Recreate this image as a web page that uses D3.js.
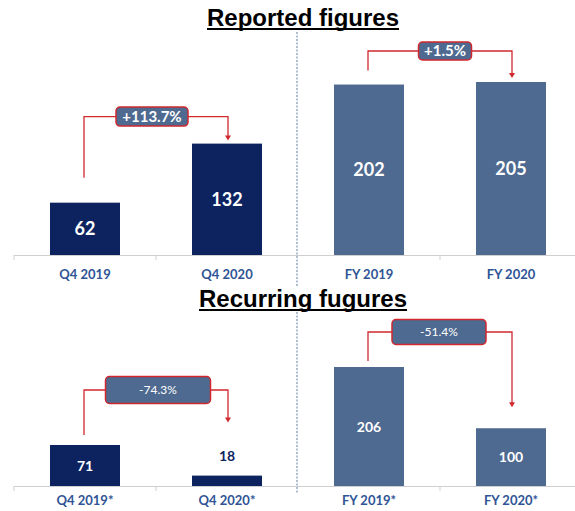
<!DOCTYPE html>
<html>
<head>
<meta charset="utf-8">
<script src="https://cdnjs.cloudflare.com/ajax/libs/d3/7.8.5/d3.min.js"></script>
<style>
  body { margin: 0; background: #fff; }
  text { font-family: Lato, "Open Sans", sans-serif; }
  .title { font-family: "Liberation Sans", Arial, sans-serif; font-weight: bold; font-size: 24px; fill: #000; }
</style>
</head>
<body>
<div id="chart"></div>
<script>
// chart data
var reportedCats = ["Q4 2019", "Q4 2020", "FY 2019", "FY 2020"];
var reportedVals = [62, 132, 202, 205];
var reportedChange = ["+113.7%", "+1.5%"];

var recurringCats = ["Q4 2019*", "Q4 2020*", "FY 2019*", "FY 2020*"];
var recurringVals = [71, 18, 206, 100];
var recurringChange = ["-74.3%", "-51.4%"];

var svgWidth = 575, svgHeight = 511;
var navy = "#0c2360", steel = "#4f6a90", red = "#d0282e", catBlue = "#2f5496";

var svg = d3.select("#chart").append("svg").attr("width", svgWidth).attr("height", svgHeight);

// dotted divider between quarter and full-year halves
[[32, 287], [312, 494]].forEach(function(s) {
  svg.append("line").attr("x1", 297).attr("x2", 297).attr("y1", s[0]).attr("y2", s[1])
    .attr("stroke", "#5f7fa3").attr("stroke-width", 1).attr("stroke-dasharray", "2,1.5");
});

function title(txt, y) {
  var t = svg.append("text").attr("class", "title").attr("x", 303).attr("y", y)
    .attr("text-anchor", "middle").text(txt);
  var w = t.node().getComputedTextLength();
  svg.append("line").attr("x1", 303 - w / 2).attr("x2", 303 + w / 2)
    .attr("y1", y + 3).attr("y2", y + 3).attr("stroke", "#000").attr("stroke-width", 2);
}
title("Reported figures", 26);
title("Recurring fugures", 307);

var x = d3.scaleBand().domain(d3.range(4)).range([14, 582]).paddingInner(0.507).paddingOuter(0.2535);
var barW = x.bandwidth();

// p: panel options
function panel(cats, vals, changes, p) {
  var y = d3.scaleLinear().domain([0, p.maxVal]).range([p.base, p.top]);
  var g = svg.append("g");

  // axis line with small ticks at group boundaries
  g.append("line").attr("x1", 14).attr("x2", 575).attr("y1", p.base + 0.5).attr("y2", p.base + 0.5)
    .attr("stroke", "#cfcfcf").attr("stroke-width", 1);
  g.selectAll(".tick").data([0, 1, 3]).enter().append("line")
    .attr("x1", d => x(d) - x.step() * x.paddingInner() / 2)
    .attr("x2", d => x(d) - x.step() * x.paddingInner() / 2)
    .attr("y1", p.base).attr("y2", p.base + 5).attr("stroke", "#cfcfcf");

  g.selectAll("rect").data(vals).enter().append("rect")
    .attr("x", (d, i) => x(i)).attr("width", barW)
    .attr("y", d => y(d)).attr("height", d => p.base - y(d))
    .attr("fill", (d, i) => i < 2 ? navy : steel);

  g.selectAll(".val").data(vals).enter().append("text")
    .attr("x", (d, i) => x(i) + barW / 2)
    .attr("y", d => (p.base - y(d) < 25) ? y(d) - 20 : (y(d) + p.base) / 2)
    .attr("dy", "0.36em").attr("text-anchor", "middle")
    .attr("font-size", p.valSize).attr("font-weight", "bold")
    .attr("fill", d => (p.base - y(d) < 25) ? navy : "#fff")
    .text(d => d);

  g.selectAll(".cat").data(cats).enter().append("text")
    .attr("x", (d, i) => x(i) + barW / 2).attr("y", p.catY)
    .attr("dy", "0.36em").attr("text-anchor", "middle")
    .attr("font-size", 13).attr("font-weight", "bold").attr("fill", catBlue)
    .text(d => d);

  // change brackets
  changes.forEach(function(c, k) {
    var a = p.brackets[k];
    var i0 = k * 2, i1 = k * 2 + 1;
    var x0 = x(i0) + barW / 2 - 1, x1 = x(i1) + barW / 2 + 1;
    var y0 = y(vals[i0]) - a.start, yt = Math.min(y(vals[i0]), y(vals[i1])) - a.rise;
    var y1 = y(vals[i1]) - a.end;
    g.append("path")
      .attr("d", `M${x0},${y0}V${yt}H${x1}V${y1 - 4}`)
      .attr("fill", "none").attr("stroke", red).attr("stroke-width", 1.3);
    g.append("path")
      .attr("d", `M${x1 - 3},${y1 - 5}L${x1 + 3},${y1 - 5}L${x1},${y1}Z`).attr("fill", red);
    var cx = (x0 + x1) / 2 + a.dx;
    g.append("rect").attr("x", cx - a.w / 2).attr("y", yt - a.h / 2)
      .attr("width", a.w).attr("height", a.h).attr("rx", 4)
      .attr("fill", steel).attr("stroke", red).attr("stroke-width", 1.5);
    g.append("text").attr("x", cx).attr("y", yt).attr("dy", "0.36em")
      .attr("text-anchor", "middle").attr("fill", "#fff")
      .attr("font-size", p.boxSize).attr("font-weight", p.boxWeight).text(c);
  });
}

panel(reportedCats, reportedVals, reportedChange, {
  base: 255, top: 82, maxVal: 205, catY: 274, valSize: 18, boxSize: 15, boxWeight: "bold",
  brackets: [
    { start: 25, rise: 27, end: 3, w: 72, h: 19, dx: -4 },
    { start: 14, rise: 31, end: 4, w: 53, h: 18, dx: 5 }
  ]
});

panel(recurringCats, recurringVals, recurringChange, {
  base: 486, top: 367, maxVal: 206, catY: 500, valSize: 14, boxSize: 12, boxWeight: "normal",
  brackets: [
    { start: 10, rise: 55, end: 53, w: 105, h: 27, dx: 2 },
    { start: 6, rise: 35, end: 21, w: 94, h: 25, dx: -1 }
  ]
});
</script>
</body>
</html>
